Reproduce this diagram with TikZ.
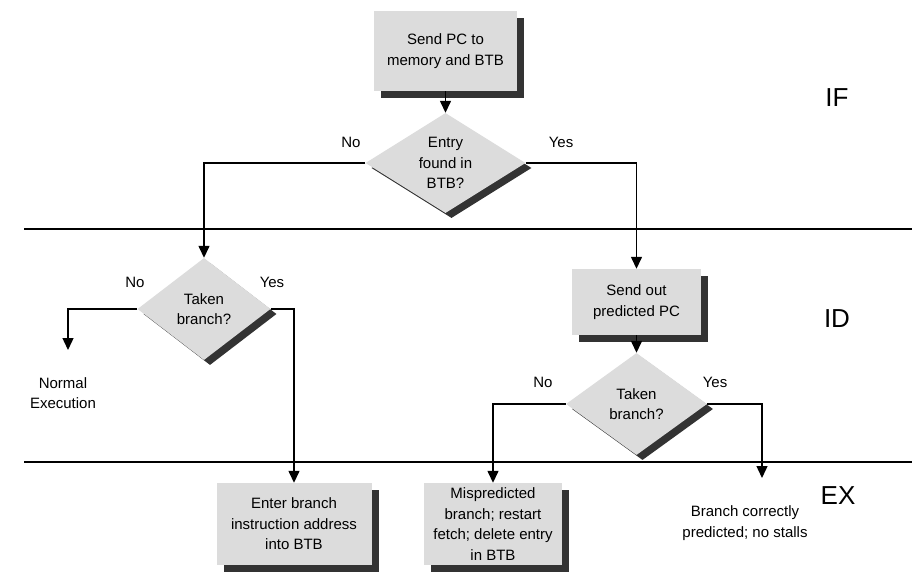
\documentclass[tikz,border=0pt]{standalone}
\usepackage{fontspec}
\setmainfont{Liberation Sans}
\usetikzlibrary{shapes.geometric,arrows.meta,shadows}
\definecolor{boxgray}{HTML}{DCDCDC}
\definecolor{shadowgray}{HTML}{333333}
\begin{document}
\begin{tikzpicture}[x=1pt,y=-1pt,
  every node/.style={font=\fontsize{15}{20.5}\selectfont, inner sep=0pt},
  procbox/.style={rectangle, fill=boxgray, align=center,
    drop shadow={shadow xshift=7pt, shadow yshift=-7pt, fill=shadowgray, opacity=1}},
  decision/.style={diamond, fill=boxgray, align=center, aspect=1.6,
    drop shadow={shadow xshift=6pt, shadow yshift=-5pt, fill=shadowgray, opacity=1}},
  flow/.style={line width=1.4pt, -{Triangle[length=12pt,width=11pt]}},
  sep/.style={line width=1.8pt},
  stage/.style={font=\fontsize{26}{30}\selectfont},
  plain/.style={align=center}]
\useasboundingbox (0,0) rectangle (924,572);

% stage separators
\coordinate (l1a) at (24,229);
\coordinate (l1b) at (912,229);
\coordinate (l2a) at (24,462);
\coordinate (l2b) at (912,462);
\draw[sep] (l1a) -- (l1b);
\draw[sep] (l2a) -- (l2b);

% stage names
\node[stage] (sif) at (837,98) {IF};
\node[stage] (sid) at (837,319) {ID};
\node[stage] (sex) at (838,496) {EX};

% nodes
\node[procbox, minimum width=143pt, minimum height=80pt] (b1) at (445.5,51) {Send PC to\\memory and BTB};
\node[decision, minimum width=160pt, minimum height=100pt] (d1) at (445.5,163) {Entry\\found in\\BTB?};
\node[decision, minimum width=133pt, minimum height=102pt] (d2) at (204,309) {Taken\\branch?};
\node[procbox, minimum width=129pt, minimum height=66pt] (b2) at (636.5,302) {Send out\\predicted PC};
\node[decision, minimum width=141pt, minimum height=102pt] (d3) at (636.5,404) {Taken\\branch?};
\node[procbox, minimum width=155pt, minimum height=82pt] (b3) at (294,524) {Enter branch\\instruction address\\into BTB};
\node[procbox, minimum width=138pt, minimum height=82pt] (b4) at (493,524) {Mispredicted\\branch; restart\\fetch; delete entry\\in BTB};

\node[plain] (ne) at (63,393) {Normal\\Execution};
\node[plain] (bc) at (745,523) {Branch correctly\\predicted; no stalls};
\coordinate (neend) at (68,350);
\coordinate (bcend) at (762,478);

% labels
\node (n1) at (351,142) {No};
\node (y1) at (561,142) {Yes};
\node (n2) at (135,282) {No};
\node (y2) at (272,282) {Yes};
\node (n3) at (543,382) {No};
\node (y3) at (715,382) {Yes};

% connectors
\draw[flow] (b1.south) -- (d1.north);
\draw[flow] (d1.west) -| (d2.north);
\draw[flow] (d1.east) -| (b2.north);
\draw[flow] (d2.west) -| (neend);
\draw[flow] (d2.east) -| (b3.north);
\draw[flow] (b2.south) -- (d3.north);
\draw[flow] (d3.west) -| (b4.north);
\draw[flow] (d3.east) -| (bcend);
\end{tikzpicture}
\end{document}
